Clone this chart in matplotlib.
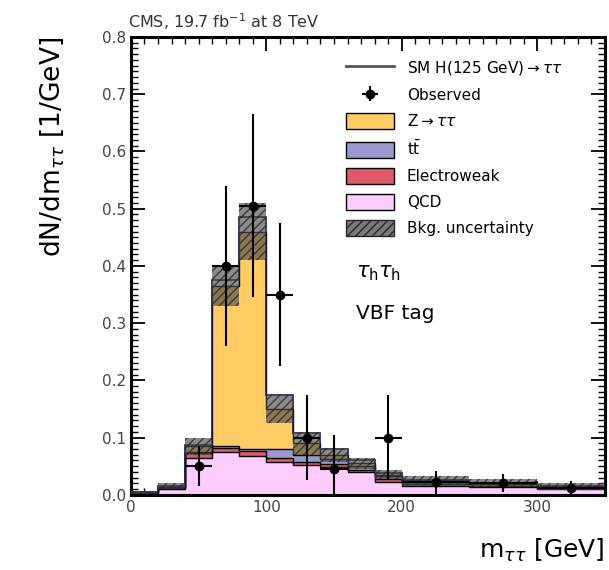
import numpy as np
import matplotlib
matplotlib.use("Agg")
import matplotlib.pyplot as plt
from matplotlib.lines import Line2D
from matplotlib.patches import Patch
from matplotlib.ticker import MultipleLocator

# binning of the m_tautau distribution [GeV]
bin_edges = [0, 20, 40, 60, 80, 100, 120, 140, 160, 180, 200, 250, 300, 350]

# background components, dN/dm [1/GeV]
qcd = [0.003, 0.010, 0.065, 0.074, 0.068, 0.057, 0.052, 0.049, 0.040, 0.023, 0.016, 0.014, 0.010]
ewk = [0.001, 0.002, 0.008, 0.008, 0.008, 0.008, 0.006, 0.005, 0.004, 0.004, 0.003, 0.002, 0.002]
ttbar = [0.000, 0.001, 0.002, 0.003, 0.004, 0.015, 0.012, 0.008, 0.006, 0.005, 0.004, 0.003, 0.002]
ztt = [0.000, 0.002, 0.010, 0.280, 0.380, 0.070, 0.020, 0.008, 0.005, 0.003, 0.002, 0.001, 0.001]
bkg_unc = [0.002, 0.005, 0.015, 0.035, 0.050, 0.025, 0.020, 0.012, 0.010, 0.008, 0.008, 0.007, 0.006]

# SM Higgs (125 GeV) signal, stacked on top of the background
signal = [0.000, 0.000, 0.002, 0.010, 0.025, 0.025, 0.018, 0.010, 0.005, 0.003, 0.001, 0.001, 0.000]

# observed data: bin centres, values and uncertainties
obs_x = [50, 70, 90, 110, 130, 150, 190, 225, 275, 325]
obs_y = [0.050, 0.400, 0.505, 0.350, 0.100, 0.045, 0.100, 0.022, 0.020, 0.012]
obs_err = [0.035, 0.140, 0.160, 0.125, 0.075, 0.060, 0.075, 0.020, 0.016, 0.012]
obs_halfwidth = [10, 10, 10, 10, 10, 10, 10, 25, 25, 25]

edges = np.array(bin_edges, dtype=float)
layers = [("QCD", qcd, "#FFCCFF"),
          ("Electroweak", ewk, "#DE5A6A"),
          (r"$\mathrm{t\bar{t}}$", ttbar, "#9999CC"),
          (r"Z$\rightarrow\tau\tau$", ztt, "#FFCC66")]

fig = plt.figure(figsize=(6.09, 5.70), dpi=100)
ax = fig.add_axes([0.215, 0.132, 0.778, 0.803])

base = np.zeros(len(edges) - 1)
for name, vals, col in layers:
    top = base + np.array(vals)
    ax.stairs(top, edges, baseline=base, fill=True, facecolor=col,
              edgecolor="none", zorder=2)
    ax.stairs(top, edges, baseline=None, color="black", lw=1.0, zorder=3)
    base = top
total = base

# signal drawn on top of the stack
ax.stairs(total + np.array(signal), edges, baseline=None,
          color="#1b1b4d", lw=1.2, zorder=4)

# background uncertainty band
unc = np.array(bkg_unc)
ax.stairs(total + unc, edges, baseline=total - unc, fill=True,
          facecolor=(0.3, 0.3, 0.3, 0.65), edgecolor=(0.15, 0.15, 0.15, 0.8),
          hatch="////", lw=0, zorder=5)

# observed data
ax.errorbar(obs_x, obs_y, yerr=obs_err, xerr=obs_halfwidth, fmt="o",
            color="black", ms=6, lw=1.5, capsize=0, zorder=6)

ax.set_xlim(0, 350)
ax.set_ylim(0, 0.8)
ax.xaxis.set_major_locator(MultipleLocator(100))
ax.xaxis.set_minor_locator(MultipleLocator(10))
ax.yaxis.set_major_locator(MultipleLocator(0.1))
ax.yaxis.set_minor_locator(MultipleLocator(0.01))
ax.tick_params(which="both", direction="in", top=True, right=True,
               labelsize=11, labelcolor="#444444")
ax.tick_params(which="major", length=10, width=1.3)
ax.tick_params(which="minor", length=5, width=1.0)
ax.yaxis.set_major_formatter(matplotlib.ticker.FormatStrFormatter("%.1f"))
for s in ax.spines.values():
    s.set_linewidth(2.2)

ax.set_ylabel(r"dN/dm$_{\tau\tau}$ [1/GeV]", fontsize=19, loc="top", labelpad=26)
ax.set_xlabel(r"m$_{\tau\tau}$ [GeV]", fontsize=18, loc="right", labelpad=16)

fig.text(0.21, 0.962, r"CMS, 19.7 fb$^{-1}$ at 8 TeV", fontsize=11.5,
         color="#333333", ha="left", va="center")

ax.text(0.475, 0.485, r"$\tau_{\mathrm{h}}\tau_{\mathrm{h}}$", transform=ax.transAxes,
        fontsize=15, ha="left", va="center")
ax.text(0.475, 0.395, "VBF tag", transform=ax.transAxes,
        fontsize=14.5, ha="left", va="center")

handles = [
    Line2D([], [], color="#555555", lw=2),
    ax.errorbar([], [], yerr=[], xerr=[], fmt="o", color="black", ms=6, lw=1.5),
    Patch(facecolor="#FFCC66", edgecolor="black"),
    Patch(facecolor="#9999CC", edgecolor="black"),
    Patch(facecolor="#DE5A6A", edgecolor="black"),
    Patch(facecolor="#FFCCFF", edgecolor="black"),
    Patch(facecolor=(0.3, 0.3, 0.3, 0.75), edgecolor=(0.15, 0.15, 0.15), hatch="////"),
]
labels = [r"SM H(125 GeV)$\rightarrow\tau\tau$", "Observed", r"Z$\rightarrow\tau\tau$",
          r"$\mathrm{t\bar{t}}$", "Electroweak", "QCD", "Bkg. uncertainty"]
ax.legend(handles, labels, loc="upper left", bbox_to_anchor=(0.44, 0.965),
          frameon=False, fontsize=11, handlelength=3.2, handleheight=1.2,
          labelspacing=0.65, borderaxespad=0)

fig.savefig("out.png", dpi=100)
